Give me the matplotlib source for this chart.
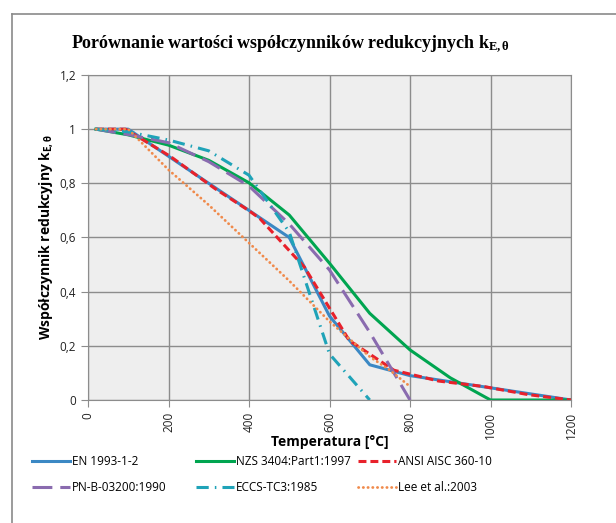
import matplotlib
matplotlib.use('Agg')
import matplotlib.pyplot as plt
from matplotlib.ticker import FuncFormatter
from matplotlib.lines import Line2D

plt.rcParams['font.family'] = ['Open Sans', 'DejaVu Sans']
plt.rcParams['mathtext.fontset'] = 'custom'
plt.rcParams['mathtext.rm'] = 'Liberation Serif:bold'
plt.rcParams['mathtext.it'] = 'Liberation Serif:bold'
plt.rcParams['mathtext.bf'] = 'Liberation Serif:bold'

# temperatures [°C] and reduction factors k_E,theta
t_en = [20, 100, 200, 300, 400, 500, 600, 700, 800, 900, 1000, 1100, 1200]
k_en = [1.0, 1.0, 0.9, 0.8, 0.7, 0.6, 0.31, 0.13, 0.09, 0.0675, 0.045, 0.0225, 0.0]

t_nzs = [20, 100, 200, 300, 400, 500, 600, 700, 800, 900, 1000, 1200]
k_nzs = [1.0, 0.979, 0.941, 0.885, 0.802, 0.683, 0.505, 0.32, 0.185, 0.082, 0.0, 0.0]

t_ansi = [20, 93, 204, 316, 399, 427, 538, 649, 760, 871, 982, 1093, 1200]
k_ansi = [1.0, 1.0, 0.9, 0.78, 0.7, 0.67, 0.49, 0.22, 0.11, 0.07, 0.05, 0.02, 0.0]

t_pn = [20, 100, 200, 300, 400, 500, 600, 700, 800]
k_pn = [1.0, 0.98, 0.95, 0.88, 0.79, 0.65, 0.48, 0.25, 0.0]

t_eccs = [20, 100, 200, 300, 400, 500, 600, 700]
k_eccs = [1.0, 0.99, 0.96, 0.92, 0.83, 0.62, 0.17, 0.0]

t_lee = [20, 100, 200, 300, 400, 500, 600, 700, 750, 800]
k_lee = [1.0, 1.0, 0.85, 0.72, 0.58, 0.44, 0.29, 0.16, 0.11, 0.05]

labels = ['EN 1993-1-2', 'NZS 3404:Part1:1997', 'ANSI AISC 360-10',
          'PN-B-03200:1990', 'ECCS-TC3:1985', 'Lee et al.:2003']

fig = plt.figure(figsize=(6.16, 5.23), dpi=100)
ax = fig.add_axes([88/616, 1 - 400/523, 483/616, 325/523])
ax.set_facecolor('#EEEEEE')

lw = 2.2
l_en, = ax.plot(t_en, k_en, color='#3B88C4', lw=lw, label=labels[0])
l_nzs, = ax.plot(t_nzs, k_nzs, color='#00A550', lw=lw, label=labels[1])
l_ansi, = ax.plot(t_ansi, k_ansi, color='#E8212B', lw=lw, dashes=(2.6, 1.3), label=labels[2])
l_pn, = ax.plot(t_pn, k_pn, color='#8A6BAF', lw=lw, dashes=(6.5, 2.6), label=labels[3])
l_eccs, = ax.plot(t_eccs, k_eccs, color='#1FA3B8', lw=lw, dashes=(4, 2, 0.5, 2), label=labels[4])
l_lee, = ax.plot(t_lee, k_lee, color='#F08A4B', lw=2.0, dashes=(0.1, 1.6),
                 dash_capstyle='round', label=labels[5])

ax.set_xlim(0, 1200)
ax.set_ylim(0, 1.2)
ax.set_xticks(range(0, 1201, 200))
ax.set_yticks([0, 0.2, 0.4, 0.6, 0.8, 1.0, 1.2])
ax.yaxis.set_major_formatter(FuncFormatter(lambda v, p: ('%g' % round(v, 1)).replace('.', ',')))
ax.grid(True, color='#8C8C8C', lw=1.0)
ax.set_axisbelow(True)
for s in ax.spines.values():
    s.set_color('#8C8C8C')
ax.tick_params(axis='both', color='#8C8C8C', length=5, labelsize=8.5, labelcolor='#222222')
ax.tick_params(axis='x', labelrotation=90)

ax.set_xlabel('Temperatura [°C]', fontsize=10, fontweight='bold', labelpad=-3)
ax.set_ylabel('Współczynnik redukcyjny k$_{\\mathregular{E,θ}}$', fontsize=10,
              fontweight='bold', labelpad=3)

fig.text(290/616, 1 - 44/523, 'Porównanie wartości współczynników redukcyjnych k$_{\\mathrm{E,θ}}$',
         family='Liberation Serif', fontweight='bold', fontsize=13, ha='center', va='center')

# chart frame (top and left edges)
fig.add_artist(Line2D([12/616, 1], [1 - 14/523, 1 - 14/523], color='#8A8A8A', lw=1.2))
fig.add_artist(Line2D([12/616, 12/616], [0, 1 - 14/523], color='#8A8A8A', lw=1.2))

cols = [([l_en, l_pn], 32), ([l_nzs, l_eccs], 196), ([l_ansi, l_lee], 358)]
for handles, x0 in cols:
    fig.legend(handles=handles, labels=[h.get_label() for h in handles],
               loc='upper left', bbox_to_anchor=(x0/616, 1 - 455/523), frameon=False,
               fontsize=8.5, handlelength=3.2, handletextpad=0.2, labelspacing=1.1,
               borderaxespad=0, borderpad=0)

fig.savefig('out.png', dpi=100)
